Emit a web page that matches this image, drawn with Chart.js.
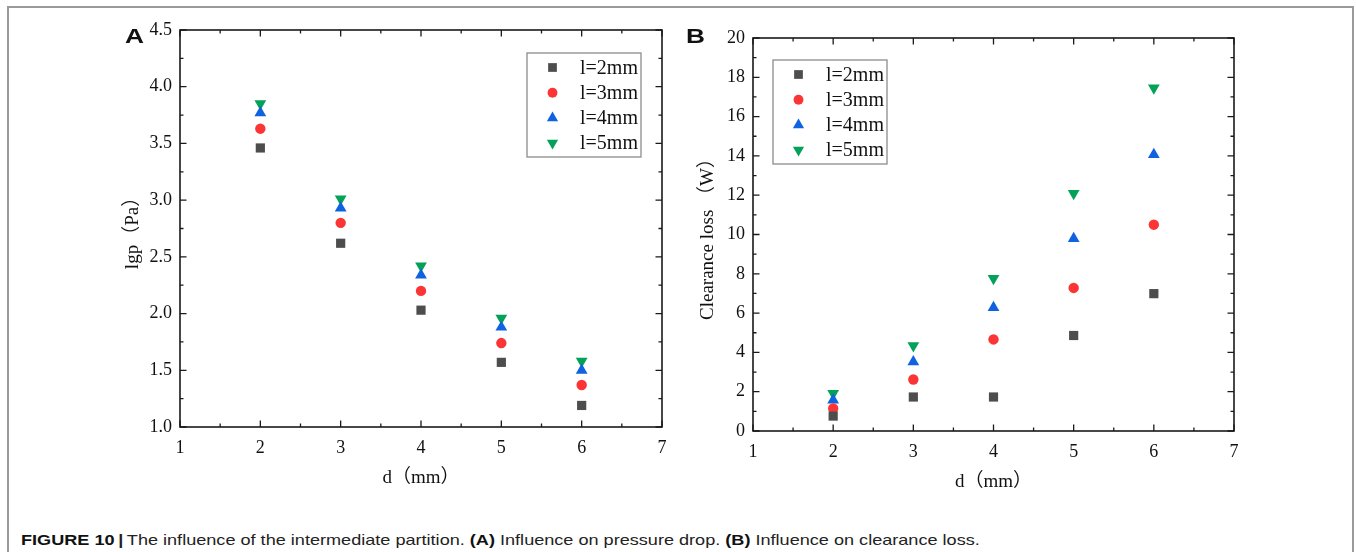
<!DOCTYPE html>
<html lang="en">
<head>
<meta charset="UTF-8">
<title>Figure 10 - intermediate partition</title>
<script src="https://cdn.jsdelivr.net/npm/chart.js"></script>
<style>
  body { margin: 0; padding: 0; background: #fff; }
  .figure { position: relative; width: 1356px; height: 552px; overflow: hidden; background: #fff; }
  .frame {
    position: absolute; left: 7px; top: 6px; width: 1347px; height: 600px;
    border: 2px solid #9a9a9a; box-sizing: border-box;
  }
  canvas { position: absolute; top: 0; }
  #chartA { left: 100px; }
  #chartB { left: 660px; }
  .letter {
    position: absolute; top: 25px;
    font: bold 21px 'Liberation Sans', Arial, sans-serif; line-height: 21px;
    color: #111; transform: scaleX(1.25); transform-origin: left top;
  }
  .caption {
    position: absolute; left: 21px; top: 532px; white-space: nowrap;
    font: 15px 'Liberation Sans', Arial, sans-serif; line-height: 15px;
    color: #222; transform-origin: left top;
  }
  .caption b { color: #111; }
  .caption .sep { font-weight: bold; padding: 0 3px; }
</style>
</head>
<body>
<div class="figure">
  <div class="frame"></div>
  <canvas id="chartA" width="600" height="500"></canvas>
  <canvas id="chartB" width="620" height="500"></canvas>
  <div class="letter" style="left:125px">A</div>
  <div class="letter" style="left:686px">B</div>
  <div class="caption" id="caption"><b>FIGURE 10</b><span class="sep">|</span>The influence of the intermediate partition. <b>(A)</b> Influence on pressure drop. <b>(B)</b> Influence on clearance loss.</div>
</div>

<script>
// d (mm) on the x axis
const dValues = [2, 3, 4, 5, 6];
const seriesLabels = ['l=2mm', 'l=3mm', 'l=4mm', 'l=5mm'];

// panel A: lgp (Pa)
const lgpL2 = [3.46, 2.62, 2.03, 1.57, 1.19];
const lgpL3 = [3.63, 2.80, 2.20, 1.74, 1.37];
const lgpL4 = [3.77, 2.93, 2.34, 1.88, 1.50];
const lgpL5 = [3.85, 3.01, 2.42, 1.96, 1.58];

// panel B: clearance loss (W)
const lossL2 = [0.76, 1.73, 1.73, 4.86, 6.99];
const lossL3 = [1.15, 2.62, 4.66, 7.28, 10.50];
const lossL4 = [1.57, 3.52, 6.28, 9.79, 14.07];
const lossL5 = [1.91, 4.34, 7.76, 12.09, 17.46];

const markerColors = ['#4d4d4d', '#fb3535', '#0f62e0', '#04a158'];
const markerStyles = ['rect', 'circle', 'triangle', 'triangle'];
const markerRotation = [0, 0, 0, 180];
const markerRadius = [6.5, 5.2, 6.8, 6.8];

Chart.defaults.font.family = "'Liberation Serif', 'Times New Roman', 'Noto Sans CJK SC', serif";
Chart.defaults.color = '#111';

function drawMarker(ctx, style, rot, r, x, y) {
    ctx.beginPath();
    if (style === 'circle') {
        ctx.arc(x, y, r, 0, Math.PI * 2);
    } else if (style === 'rect') {
        const s = r * Math.SQRT1_2;
        ctx.rect(x - s, y - s, 2 * s, 2 * s);
    } else {
        let a = rot * Math.PI / 180;
        ctx.moveTo(x + Math.sin(a) * r, y - Math.cos(a) * r);
        a += Math.PI * 2 / 3;
        ctx.lineTo(x + Math.sin(a) * r, y - Math.cos(a) * r);
        a += Math.PI * 2 / 3;
        ctx.lineTo(x + Math.sin(a) * r, y - Math.cos(a) * r);
        ctx.closePath();
    }
    ctx.fill();
}

// closed frame with inward major/minor ticks on all four sides
const frameTicks = {
    id: 'frameTicks',
    beforeDatasetsDraw(chart) {
        const {ctx, chartArea: a, scales} = chart;
        ctx.save();
        ctx.strokeStyle = '#1a1a1a';
        ctx.lineWidth = 1.6;
        ctx.strokeRect(a.left, a.top, a.right - a.left, a.bottom - a.top);
        ctx.lineWidth = 1.3;
        const marks = (scale) => {
            const vals = scale.ticks.map(t => t.value);
            const out = [];
            vals.forEach((v, i) => {
                out.push([scale.getPixelForValue(v), 6.5]);
                if (i < vals.length - 1) out.push([scale.getPixelForValue((v + vals[i + 1]) / 2), 3.5]);
            });
            return out;
        };
        ctx.beginPath();
        marks(scales.x).forEach(([p, len]) => {
            ctx.moveTo(p, a.bottom); ctx.lineTo(p, a.bottom - len);
            ctx.moveTo(p, a.top); ctx.lineTo(p, a.top + len);
        });
        marks(scales.y).forEach(([p, len]) => {
            ctx.moveTo(a.left, p); ctx.lineTo(a.left + len, p);
            ctx.moveTo(a.right, p); ctx.lineTo(a.right - len, p);
        });
        ctx.stroke();
        ctx.restore();
    }
};

// boxed legend sitting inside the plot area
const boxLegend = {
    id: 'boxLegend',
    afterDatasetsDraw(chart, args, o) {
        const {ctx, chartArea: a} = chart;
        const left = o.align === 'right' ? a.right - o.offsetX - o.width : a.left + o.offsetX;
        const top = a.top + o.offsetY;
        ctx.save();
        ctx.fillStyle = '#fff';
        ctx.fillRect(left, top, o.width, o.height);
        ctx.strokeStyle = '#8c8c8c';
        ctx.lineWidth = 1.3;
        ctx.strokeRect(left, top, o.width, o.height);
        ctx.font = "20px 'Liberation Serif', 'Times New Roman', serif";
        ctx.textBaseline = 'middle';
        chart.data.datasets.forEach((ds, i) => {
            const y = top + 14.5 + i * 25.2;
            ctx.fillStyle = ds.backgroundColor;
            drawMarker(ctx, ds.pointStyle, ds.pointRotation, ds.pointRadius * 0.95, left + 25.5, y);
            ctx.fillStyle = '#111';
            ctx.fillText(ds.label, left + 53, y + 1);
        });
        ctx.restore();
    }
};

function makeChart(id, seriesValues, cfg) {
    return new Chart(document.getElementById(id), {
        type: 'scatter',
        data: {
            datasets: seriesLabels.map((label, i) => ({
                label: label,
                data: dValues.map((d, j) => ({x: d, y: seriesValues[i][j]})),
                pointStyle: markerStyles[i],
                pointRotation: markerRotation[i],
                pointRadius: markerRadius[i],
                pointHoverRadius: markerRadius[i],
                backgroundColor: markerColors[i],
                borderColor: markerColors[i],
                borderWidth: 0
            }))
        },
        options: {
            responsive: false,
            animation: false,
            layout: {padding: cfg.padding},
            plugins: {
                legend: {display: false},
                tooltip: {enabled: false},
                boxLegend: cfg.legend
            },
            scales: {
                x: {
                    type: 'linear', min: 1, max: 7,
                    grid: {display: false, drawTicks: false},
                    border: {display: false},
                    ticks: {stepSize: 1, padding: 10, font: {size: 18}, color: '#111'},
                    title: {display: true, text: 'd（mm）', font: {size: 19}, color: '#111',
                            padding: {top: 0, bottom: cfg.xTitlePad}},
                    afterFit: s => { s.height = cfg.xHeight; }
                },
                y: {
                    type: 'linear', min: cfg.yMin, max: cfg.yMax,
                    grid: {display: false, drawTicks: false},
                    border: {display: false},
                    ticks: {stepSize: cfg.yStep, padding: 8, font: {size: 18}, color: '#111',
                            callback: v => v.toFixed(cfg.yDecimals)},
                    title: {display: true, text: cfg.yTitle, font: {size: 19}, color: '#111',
                            padding: {top: cfg.yTitlePad, bottom: 0}},
                    afterFit: s => { s.width = cfg.yWidth; }
                }
            }
        },
        plugins: [frameTicks, boxLegend]
    });
}

makeChart('chartA', [lgpL2, lgpL3, lgpL4, lgpL5], {
    padding: {left: 0, right: 38, top: 30, bottom: 0},
    xHeight: 73, xTitlePad: 10.6,
    yWidth: 80, yTitlePad: 21.6,
    yMin: 1.0, yMax: 4.5, yStep: 0.5, yDecimals: 1,
    yTitle: 'lgp（Pa）',
    legend: {align: 'right', offsetX: 21, offsetY: 23, width: 114, height: 104}
});

makeChart('chartB', [lossL2, lossL3, lossL4, lossL5], {
    padding: {left: 0, right: 46, top: 38, bottom: 0},
    xHeight: 69, xTitlePad: 6.6,
    yWidth: 93, yTitlePad: 36.6,
    yMin: 0, yMax: 20, yStep: 2, yDecimals: 0,
    yTitle: 'Clearance loss （W）',
    legend: {align: 'left', offsetX: 20, offsetY: 22, width: 114, height: 104}
});

// caption in the reference runs out to about x = 980
const cap = document.getElementById('caption');
cap.style.transform = 'scaleX(' + (959 / cap.offsetWidth).toFixed(4) + ')';
</script>
</body>
</html>
